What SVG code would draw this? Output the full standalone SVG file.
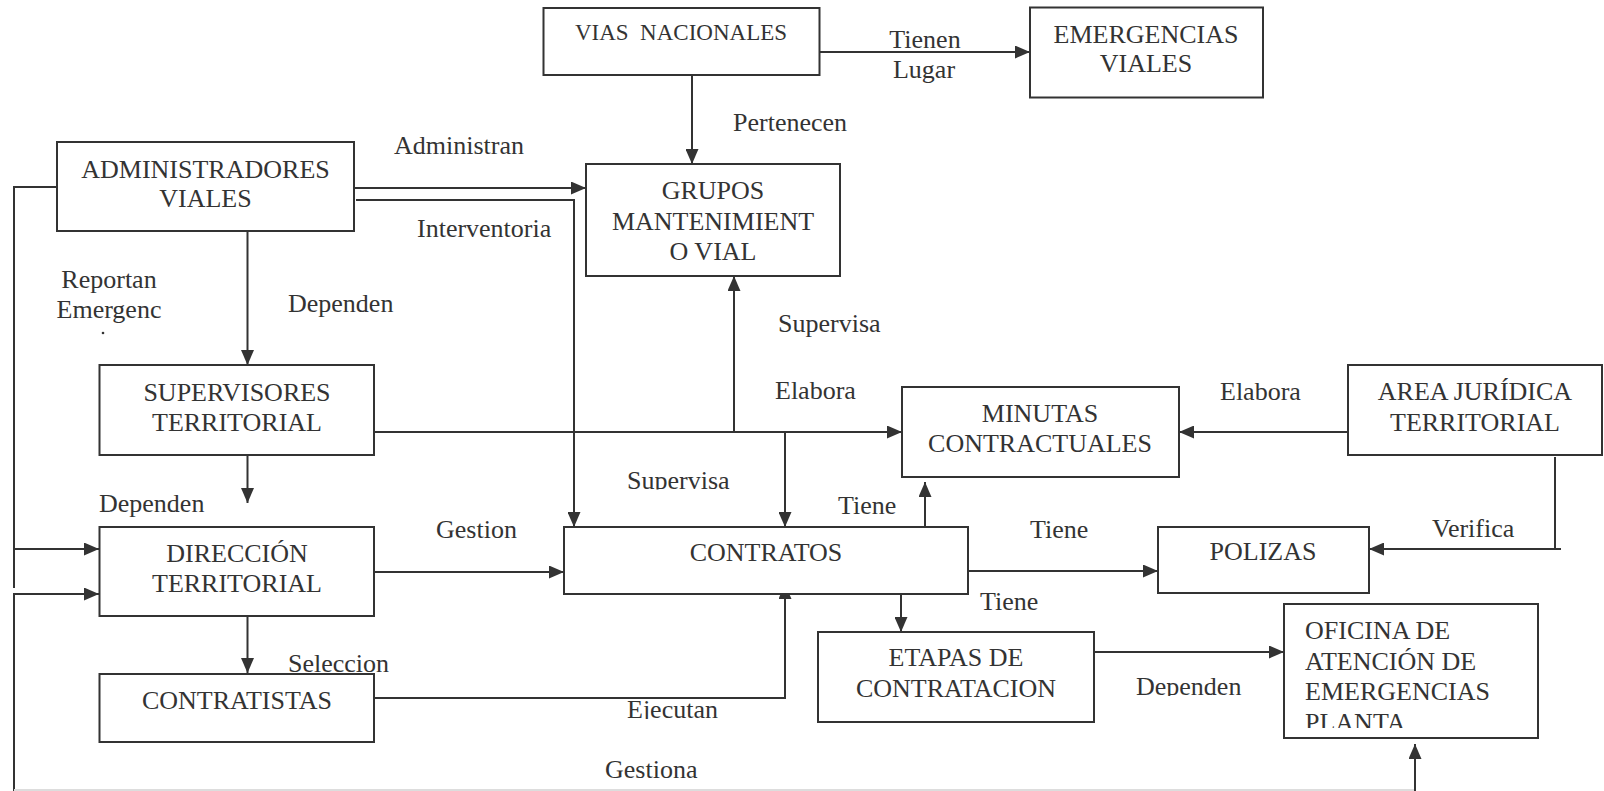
<svg xmlns="http://www.w3.org/2000/svg" width="1604" height="791" viewBox="0 0 1604 791">
<style>
.box{fill:#fff;stroke:#333;stroke-width:2}
.ln{fill:none;stroke:#333;stroke-width:2}
.arr{marker-end:url(#ah)}
text{font-family:"Liberation Serif","Times New Roman",serif;font-size:26px;fill:#333}
.c{text-anchor:middle}
.pre{white-space:pre}
</style>
<defs>
<marker id="ah" markerUnits="userSpaceOnUse" markerWidth="15" markerHeight="13" refX="15" refY="6.5" orient="auto">
<path d="M0,0 L15,6.5 L0,13 z" fill="#333"/>
</marker>
<clipPath id="clipSup"><rect x="600" y="450" width="160" height="39.5"/></clipPath>
<clipPath id="clipEje"><rect x="600" y="690" width="160" height="29"/></clipPath>
<clipPath id="clipDep"><rect x="1120" y="665" width="140" height="31"/></clipPath>
<clipPath id="clipPla"><rect x="1290" y="700" width="200" height="28"/></clipPath>
</defs>
<rect width="1604" height="791" fill="#fff"/>

<g id="connectors">
<path class="ln arr" d="M819,52 H1030"/>
<path class="ln arr" d="M692,75 V164"/>
<path class="ln arr" d="M354,188 H586"/>
<path class="ln arr" d="M356,200 H574 V527"/>
<path class="ln arr" d="M247.5,231 V365"/>
<path class="ln arr" d="M57,187 H14 V588 M14,549 H99"/>
<path class="ln arr" d="M14,791 V594 H99"/>
<path d="M14,790 H1415" fill="none" stroke="#ddd" stroke-width="2"/>
<path class="ln arr" d="M1415,791 V744"/>
<path class="ln arr" d="M374,432 H902"/>
<path class="ln arr" d="M734,432 V276"/>
<path class="ln arr" d="M785,432 V527"/>
<path class="ln arr" d="M247.5,455 V503"/>
<path class="ln arr" d="M374,572 H564"/>
<path class="ln arr" d="M247.5,616 V673"/>
<path class="ln arr" d="M374,698 H785 V584"/>
<path class="ln arr" d="M925,527 V482"/>
<path class="ln arr" d="M968,571 H1158"/>
<path class="ln arr" d="M901,594 V632"/>
<path class="ln arr" d="M1094,652 H1284"/>
<path class="ln arr" d="M1348,432 H1179"/>
<path class="ln arr" d="M1555,457 V549 M1561,549 H1369"/>
</g>

<g id="labels">
<text class="c" x="925" y="48">Tienen</text>
<text class="c" x="924" y="78">Lugar</text>
<text x="733" y="131">Pertenecen</text>
<text x="394" y="154">Administran</text>
<text x="417" y="237">Interventoria</text>
<text class="c" x="109" y="288">Reportan</text>
<text class="c" x="109" y="318">Emergenc</text>
<circle cx="103" cy="333" r="1.3" fill="#333"/>
<text x="288" y="312">Dependen</text>
<text x="778" y="332">Supervisa</text>
<text x="775" y="399">Elabora</text>
<text x="1220" y="400">Elabora</text>
<text x="99" y="512">Dependen</text>
<text x="627" y="489" clip-path="url(#clipSup)">Supervisa</text>
<text x="838" y="514">Tiene</text>
<text x="436" y="538">Gestion</text>
<text x="1030" y="538">Tiene</text>
<text x="1432" y="537">Verifica</text>
<text x="980" y="610">Tiene</text>
<text x="288" y="672">Seleccion</text>
<text x="1136" y="695" clip-path="url(#clipDep)">Dependen</text>
<text x="627" y="718" clip-path="url(#clipEje)">Ejecutan</text>
<text x="605" y="778">Gestiona</text>
</g>

<g id="vias">
<rect class="box" x="543.5" y="8" width="276" height="67"/>
<text class="c pre" x="681" y="40" style="font-size:23px">VIAS  NACIONALES</text>
</g>
<g id="emergencias">
<rect class="box" x="1030" y="7.5" width="233" height="90"/>
<text class="c" x="1146" y="43">EMERGENCIAS</text>
<text class="c" x="1146" y="72">VIALES</text>
</g>
<g id="administradores">
<rect class="box" x="57" y="142" width="297" height="89"/>
<text class="c" x="205.5" y="178">ADMINISTRADORES</text>
<text class="c" x="205.5" y="207">VIALES</text>
</g>
<g id="grupos">
<rect class="box" x="586" y="164" width="254" height="112"/>
<text class="c" x="713" y="199">GRUPOS</text>
<text class="c" x="713" y="230">MANTENIMIENT</text>
<text class="c" x="713" y="260">O VIAL</text>
</g>
<g id="supervisores">
<rect class="box" x="99.5" y="365" width="274.5" height="90"/>
<text class="c" x="237" y="401">SUPERVISORES</text>
<text class="c" x="237" y="431">TERRITORIAL</text>
</g>
<g id="minutas">
<rect class="box" x="902" y="387" width="277" height="90"/>
<text class="c" x="1040" y="422">MINUTAS</text>
<text class="c" x="1040" y="452">CONTRACTUALES</text>
</g>
<g id="area">
<rect class="box" x="1348" y="365" width="254" height="90"/>
<text class="c" x="1475" y="400">AREA JURÍDICA</text>
<text class="c" x="1475" y="431">TERRITORIAL</text>
</g>
<g id="direccion">
<rect class="box" x="99.5" y="527" width="274.5" height="89"/>
<text class="c" x="237" y="562">DIRECCIÓN</text>
<text class="c" x="237" y="592">TERRITORIAL</text>
</g>
<g id="contratos">
<rect class="box" x="564" y="527" width="404" height="67"/>
<text class="c" x="766" y="561">CONTRATOS</text>
</g>
<g id="polizas">
<rect class="box" x="1158" y="527" width="211" height="66"/>
<text class="c" x="1263" y="560">POLIZAS</text>
</g>
<g id="contratistas">
<rect class="box" x="99.5" y="674" width="274.5" height="68"/>
<text class="c" x="237" y="709">CONTRATISTAS</text>
</g>
<g id="etapas">
<rect class="box" x="818" y="632" width="276" height="90"/>
<text class="c" x="956" y="666">ETAPAS DE</text>
<text class="c" x="956" y="697">CONTRATACION</text>
</g>
<g id="oficina">
<rect class="box" x="1284" y="604" width="254" height="134"/>
<text x="1305" y="639">OFICINA DE</text>
<text x="1305" y="670">ATENCIÓN DE</text>
<text x="1305" y="700">EMERGENCIAS</text>
<text x="1305" y="731" clip-path="url(#clipPla)">PLANTA</text>
</g>
</svg>
